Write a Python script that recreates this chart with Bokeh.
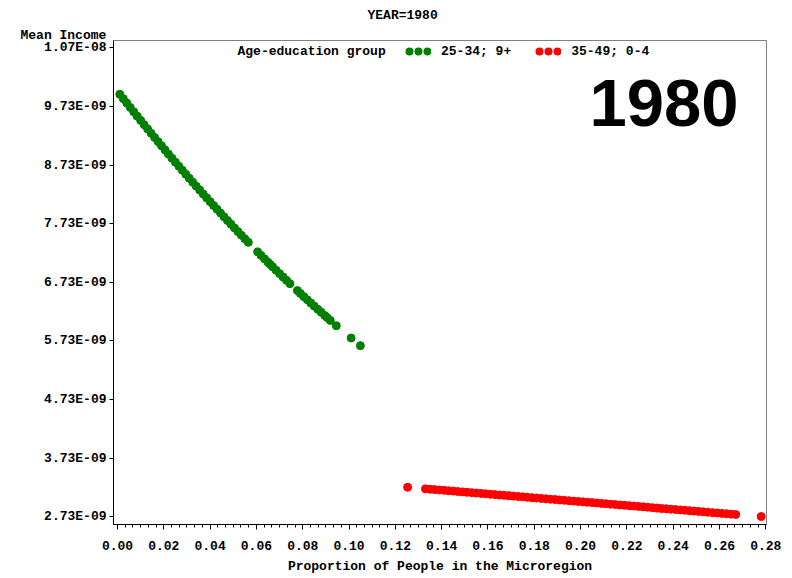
from bokeh.plotting import figure
from bokeh.models import (Range1d, FixedTicker, CustomJSTickFormatter, PrintfTickFormatter,
                          Label, Legend, LegendItem, Title)
from bokeh.embed import file_html
from bokeh.resources import INLINE

# ---------------- data ----------------
title_text = "YEAR=1980"
year_text = "1980"
legend_title = "Age-education group"
group_labels = ["25-34; 9+", "35-49; 0-4"]
group_colors = ["#008000", "#FF0000"]
x_title = "Proportion of People in the Microregion"
y_title = "Mean Income"

x_ticks = [0.00, 0.02, 0.04, 0.06, 0.08, 0.10, 0.12, 0.14, 0.16, 0.18, 0.20, 0.22, 0.24, 0.26, 0.28]
y_ticks_e9 = [2.73, 3.73, 4.73, 5.73, 6.73, 7.73, 8.73, 9.73, 10.73]

# group 25-34; 9+  (income in units of 1E-09)
green_share = [0.001, 0.0025, 0.004, 0.0055, 0.007, 0.0085, 0.010, 0.0115, 0.013, 0.0145,
               0.016, 0.0175, 0.019, 0.0205, 0.022, 0.0235, 0.025, 0.0265, 0.028, 0.0295,
               0.031, 0.0325, 0.034, 0.0355, 0.037, 0.0385, 0.040, 0.0415, 0.043, 0.0445,
               0.046, 0.0475, 0.049, 0.0505, 0.052, 0.0535, 0.055, 0.0565,
               0.0605, 0.062, 0.0635, 0.065, 0.066,
               0.067, 0.0685, 0.070, 0.0715, 0.073, 0.0745,
               0.0777, 0.079, 0.0805, 0.082, 0.0835, 0.085, 0.0865, 0.088, 0.0895, 0.0905,
               0.0919, 0.0945, 0.1009, 0.1049]
green_income = [9.939, 9.864, 9.789, 9.714, 9.640, 9.566, 9.493, 9.420, 9.347, 9.275,
                9.203, 9.131, 9.060, 8.990, 8.919, 8.849, 8.780, 8.711, 8.642, 8.574,
                8.506, 8.438, 8.371, 8.304, 8.238, 8.172, 8.107, 8.041, 7.977, 7.912,
                7.848, 7.785, 7.722, 7.659, 7.596, 7.534, 7.473, 7.412,
                7.250, 7.190, 7.131, 7.072, 7.033,
                6.994, 6.936, 6.879, 6.821, 6.764, 6.708,
                6.589, 6.541, 6.486, 6.432, 6.377, 6.324, 6.270, 6.218, 6.165, 6.130,
                6.080, 5.990, 5.780, 5.650]

# group 35-49; 0-4  (income in units of 1E-09)
red_share = [0.1253,
             0.133, 0.135, 0.137, 0.139, 0.141, 0.143, 0.145, 0.147, 0.149, 0.151,
             0.153, 0.155, 0.157, 0.159, 0.161, 0.163, 0.165, 0.167, 0.169, 0.171,
             0.173, 0.175, 0.177, 0.179, 0.181, 0.183, 0.185, 0.187, 0.189, 0.191,
             0.193, 0.195, 0.197, 0.199, 0.201, 0.203, 0.205, 0.207, 0.209, 0.211,
             0.213, 0.215, 0.217, 0.219, 0.221, 0.223, 0.225, 0.227, 0.229, 0.231,
             0.233, 0.235, 0.237, 0.239, 0.241, 0.243, 0.245, 0.247, 0.249, 0.251,
             0.253, 0.255, 0.257, 0.259, 0.261, 0.263, 0.265, 0.267,
             0.278]
red_income = [3.234,
              3.207, 3.200, 3.194, 3.187, 3.181, 3.174, 3.168, 3.161, 3.155, 3.148,
              3.142, 3.135, 3.129, 3.122, 3.115, 3.109, 3.102, 3.096, 3.089, 3.083,
              3.076, 3.070, 3.063, 3.057, 3.050, 3.043, 3.037, 3.030, 3.024, 3.017,
              3.011, 3.004, 2.998, 2.991, 2.985, 2.978, 2.972, 2.965, 2.958, 2.952,
              2.945, 2.939, 2.932, 2.926, 2.919, 2.913, 2.906, 2.900, 2.893, 2.886,
              2.880, 2.873, 2.867, 2.860, 2.854, 2.847, 2.841, 2.834, 2.828, 2.821,
              2.815, 2.808, 2.801, 2.795, 2.788, 2.782, 2.775, 2.769,
              2.735]

E9 = 1e-9

# ---------------- figure ----------------
FONT = "Liberation Mono"
FS = "13px"

p = figure(width=792, height=578, output_backend="svg", toolbar_location=None,
           x_range=Range1d(-0.00173, 0.2803),
           y_range=Range1d(2.5985e-9, 1.08563e-8),
           min_border_left=113, min_border_right=26, min_border_top=40, min_border_bottom=54)
p.title_location = None
p.xgrid.visible = False
p.ygrid.visible = False
p.outline_line_color = "#808080"
p.outline_line_width = 1
p.background_fill_color = "white"
p.border_fill_color = "white"

p.scatter(green_share, [v * E9 for v in green_income], size=8,
          fill_color=group_colors[0], line_color=group_colors[0])
p.scatter(red_share, [v * E9 for v in red_income], size=8,
          fill_color=group_colors[1], line_color=group_colors[1])

# axes
minor = [i * 0.02 / 6 for i in range(0, 85) if i % 6 != 0]
p.xaxis.ticker = FixedTicker(ticks=x_ticks, minor_ticks=minor)
p.xaxis.formatter = PrintfTickFormatter(format="%.2f")
p.yaxis.ticker = FixedTicker(ticks=[v * E9 for v in y_ticks_e9], minor_ticks=[])
p.yaxis.formatter = CustomJSTickFormatter(code="""
const s = tick.toExponential(2).split('e');
const e = parseInt(s[1]);
return s[0] + 'E' + (e < 0 ? '-' : '+') + String(Math.abs(e)).padStart(2, '0');
""")
for ax in (p.xaxis[0], p.yaxis[0]):
    ax.axis_line_color = "black"
    ax.axis_line_width = 1
    ax.major_tick_line_color = "black"
    ax.minor_tick_line_color = "black"
    ax.major_tick_in = 0
    ax.minor_tick_in = 0
    ax.major_label_text_font = FONT
    ax.major_label_text_font_style = "bold"
    ax.major_label_text_font_size = FS
    ax.major_label_text_color = "black"
p.xaxis.major_tick_out = 5
p.xaxis.minor_tick_out = 3
p.xaxis.major_label_standoff = 11
p.xaxis.axis_label = x_title
p.xaxis.axis_label_standoff = 6
p.xaxis.axis_label_text_font = FONT
p.xaxis.axis_label_text_font_style = "bold"
p.xaxis.axis_label_text_font_size = FS
p.xaxis.axis_label_text_color = "black"
p.yaxis.major_tick_out = 4
p.yaxis.minor_tick_line_color = None
p.yaxis.major_label_standoff = 3

# titles above the frame (first added = nearest the frame)
t_y = Title(text=y_title, align="left", offset=-93, standoff=-4,
            text_font=FONT, text_font_style="bold", text_font_size=FS, text_color="black")
t_main = Title(text=title_text, align="left", offset=254, standoff=10,
               text_font=FONT, text_font_style="bold", text_font_size=FS, text_color="black")
p.add_layout(t_y, "above")
p.add_layout(t_main, "above")

# legend (dotted line glyph -> three dots)
nan = float("nan")
g_leg = p.line(x=[nan], y=[nan], line_color=group_colors[0], line_width=8,
               line_dash="0 9", line_dash_offset=5, line_cap="round")
r_leg = p.line(x=[nan], y=[nan], line_color=group_colors[1], line_width=8,
               line_dash="0 9", line_dash_offset=5, line_cap="round")
legend = Legend(items=[LegendItem(label=group_labels[0], renderers=[g_leg]),
                       LegendItem(label=group_labels[1], renderers=[r_leg])],
                orientation="horizontal", location=(292, 463),
                glyph_width=26, glyph_height=20, label_height=20, label_standoff=10,
                spacing=24, padding=0, margin=0,
                border_line_alpha=0, background_fill_alpha=0,
                label_text_font=FONT, label_text_font_style="bold",
                label_text_font_size=FS, label_text_color="black")
p.add_layout(legend)

p.add_layout(Label(text=legend_title, x=124, y=473, x_units="screen", y_units="screen",
                   text_align="left", text_baseline="middle", text_font=FONT,
                   text_font_size=FS, text_font_style="bold", text_color="black"))
p.add_layout(Label(text=year_text, x=476, y=422, x_units="screen", y_units="screen",
                   text_align="left", text_baseline="alphabetic", text_font="Liberation Sans",
                   text_font_size="67px", text_font_style="bold", text_color="black"))

open("out.html", "w").write(file_html(p, INLINE))
